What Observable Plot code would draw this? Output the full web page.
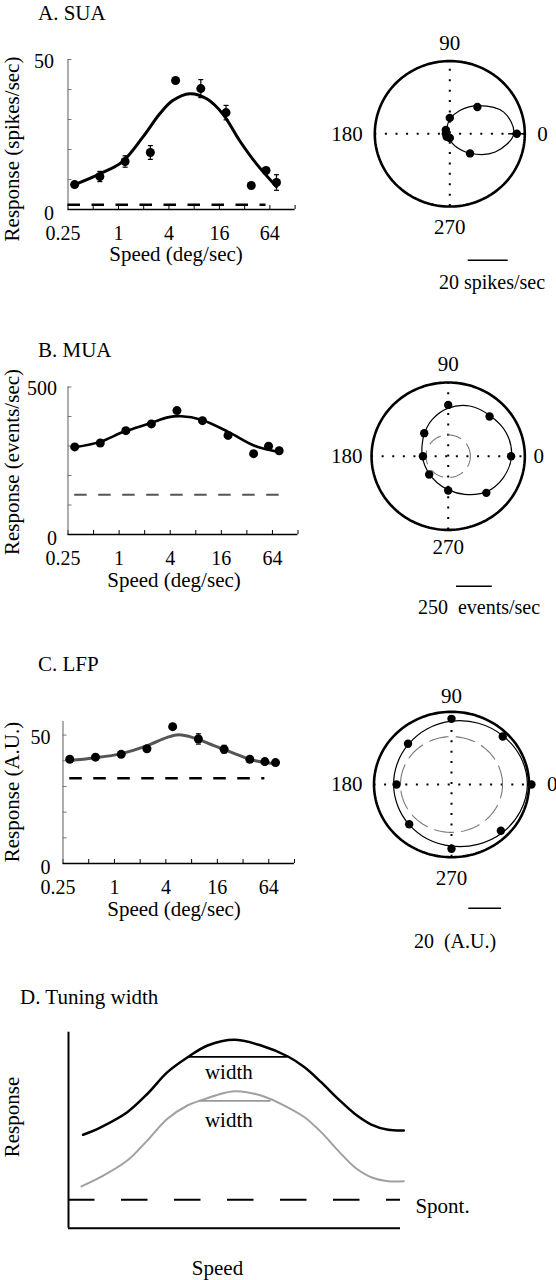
<!DOCTYPE html>
<html><head><meta charset="utf-8">
<script src="https://cdn.jsdelivr.net/npm/d3@7"></script>
<script src="https://cdn.jsdelivr.net/npm/@observablehq/plot@0.6"></script>
<style>
html,body{margin:0;padding:0;background:#fff;}
#page{position:relative;width:556px;height:1280px;overflow:hidden;background:#fff;font-family:"Liberation Serif","Times New Roman",serif;color:#000;}
#page svg{position:absolute;overflow:visible;}
.t{position:absolute;white-space:pre;line-height:1.15;font-size:21px;}
</style></head><body><div id="page"></div>
<script>
// ---------- data ----------
const speeds = [0.3, 0.6, 1.2, 2.4, 4.8, 9.6, 19.2, 38.4, 57.6, 76.8];
const octaveTicks = [0.25, 0.5, 1, 2, 4, 8, 16, 32, 64, 128];
const speedTickLabels = [0.25, 1, 4, 16, 64];

// A. SUA
const suaResp = [8.3, 11, 16, 19, 43, 40.3, 32.3, 8, 13, 9];
const suaErr = [0, 1.7, 1.9, 2.3, 0, 3, 2.4, 0, 0, 2.6];
const suaFitSpeed = [0.3, 0.6, 1.1, 1.95, 3.11, 4.44, 7.1, 11.3, 17.5, 27.8, 44.3, 76.8];
const suaFitResp = [8.3, 11.9, 15.8, 24.1, 31.9, 36.3, 38.6, 36.9, 31.9, 23.0, 15.2, 7.6];
const suaSpont = 1.6;
const suaSpontRange = [0.25, 57.6];
const suaYTicks = [0, 10, 20, 30, 40, 50];

// B. MUA
const muaResp = [297, 310, 352, 375, 420, 386, 336, 274, 299, 284];
const muaFitSpeed = [0.3, 0.6, 1.13, 2.37, 3.73, 5.4, 9.3, 19.3, 40, 76.8];
const muaFitResp = [296, 314, 348, 378, 397, 401, 389, 348, 300, 280];
const muaSpont = 135;
const muaSpontRange = [0.3, 76.8];
const muaYTicks = [0, 100, 200, 300, 400, 500];

// C. LFP
const lfpResp = [40.6, 41.4, 42.5, 44.7, 53.3, 48.5, 44.5, 40.6, 39.7, 39.3];
const lfpErr = [0, 0, 0, 0, 0, 2, 1.5, 0, 0, 0];
const lfpFitSpeed = [0.3, 0.57, 1.18, 2.42, 4.15, 5.66, 8.5, 14.6, 25.1, 42.9, 76.8];
const lfpFitResp = [40.1, 41.1, 42.7, 45.9, 49.1, 50.1, 48.9, 45.9, 42.9, 40.1, 38.8];
const lfpSpont = 33.2;
const lfpSpontRange = [0.3, 57.6];
const lfpYTicks = [0, 10, 20, 30, 40, 50];

// direction tuning (polar)
const directions = [0, 45, 90, 135, 180, 225, 270, 315];
const fitDirections = [0, 22.5, 45, 67.5, 90, 112.5, 135, 157.5, 180, 202.5, 225, 247.5, 270, 292.5, 315, 337.5];
const suaDir = [33.5, 19.5, 8.2, 2.8, 2.0, 2.2, 2.2, 14.3];
const suaDirErr = [4.3, 0, 0, 0, 0, 0, 0, 0];
const suaDirFit = [32, 29.2, 20.6, 13, 7.4, 3.7, 2.1, 1.5, 1.3, 1.3, 1.5, 2, 3.2, 6.8, 14.2, 24.6];
const suaDirOuter = 37.5;
const muaDir = [440, 409, 373, 237, 177, 188, 249, 377];
const muaDirFit = [443, 440, 415, 395, 350, 290, 235, 198, 181, 177, 185, 207, 245, 300, 370, 415];
const muaDirOuter = 536;
const muaDirSpont = 155;
const lfpDir = [48.9, 44.3, 42.8, 37.6, 33.6, 36.6, 41.9, 42.7];
const lfpDirFit = [46.4, 45.9, 44.7, 43.2, 41.3, 39.2, 37.2, 35.9, 35.4, 35.7, 36.8, 38.5, 40.2, 42.2, 44.2, 45.6];
const lfpDirOuter = 47.4;
const lfpDirSpont = 31.2;

// D. Tuning width (schematic)
const dBlackX = [4.4, 9.7, 17.7, 23.8, 29.8, 35.9, 41.9, 49.9, 58, 66.1, 71.1, 76.1, 81.2, 86.2, 91.2, 96.3, 101];
const dBlackY = [47.7, 51.5, 59.2, 68.6, 79.6, 87.2, 93.2, 96.1, 93.2, 87.6, 82.1, 74.5, 66, 58.4, 52.9, 50.2, 49.8];
const dGrayX = [3.9, 9.6, 17.7, 23.7, 29.8, 35.8, 39.8, 49.9, 58, 66, 71.1, 76.1, 81.2, 86.2, 91.2, 96.3, 101];
const dGrayY = [21.3, 26, 34.5, 44.7, 55.8, 62.6, 65.2, 69.9, 67.7, 61.7, 56.6, 49, 39.6, 31.1, 26, 24, 24];
const dBlackWidth = [35.9, 66.1], dBlackWidthLevel = 87.4;
const dGrayWidth = [39.5, 61], dGrayWidthLevel = 65;
const dSpont = 14.5;

// ---------- drawing ----------
const page = document.getElementById("page");
const FONT = '"Liberation Serif","Times New Roman",serif';
const capSymbol = {draw(ctx, size) { const w = Math.sqrt(size / Math.PI); ctx.moveTo(-w, 0); ctx.lineTo(w, 0); }};

function place(svg, left, top) {
  svg.style.position = "absolute";
  svg.style.left = left + "px";
  svg.style.top = top + "px";
  svg.style.maxWidth = "none";
  page.appendChild(svg);
}

function label(text, x, y, {anchor = "middle", rotate = 0, size = 21} = {}) {
  const d = document.createElement("div");
  d.className = "t";
  d.textContent = text;
  d.style.left = x + "px";
  d.style.top = y + "px";
  d.style.fontSize = size + "px";
  const tx = anchor === "start" ? "0" : anchor === "end" ? "-100%" : "-50%";
  d.style.transform = `translate(${tx},-50%)` + (rotate ? ` rotate(${rotate}deg)` : "");
  page.appendChild(d);
}

function speedPanel(c) {
  const pts = speeds.map((s, i) => ({s, v: c.resp[i], e: c.err ? c.err[i] : 0}));
  const eb = pts.filter(d => d.e > 0);
  const fit = c.fitSpeed.map((s, i) => ({s, v: c.fitResp[i]}));
  const yTop = c.yTop;
  const svg = Plot.plot({
    width: c.width, height: c.height,
    marginLeft: c.ml, marginRight: c.mr, marginTop: c.mt, marginBottom: c.mb,
    style: {fontFamily: FONT, fontSize: "20px", background: "transparent", color: "black"},
    x: {type: "log", base: 2, domain: [0.25, 128]},
    y: {domain: [0, yTop]},
    marks: [
      Plot.axisY({ticks: c.yTicks, tickSize: -4, tickFormat: () => "", stroke: "#777", label: null}),
      Plot.axisX({ticks: octaveTicks, tickSize: -4, tickFormat: () => "", stroke: "black", label: null}),
      Plot.ruleX([0.25], {y1: 0, y2: yTop, stroke: "#777", strokeWidth: 1.2}),
      Plot.ruleY([0], {stroke: "black", strokeWidth: 1.5}),
      Plot.text([c.yTicks[c.yTicks.length - 1]], {x: 0.25, y: d => d, text: d => String(d), textAnchor: "end", dx: -c.yGap, dy: 2, fontSize: 20}),
      Plot.text([0], {x: 0.25, y: d => d, text: d => String(d), textAnchor: "end", dx: -c.yGap, dy: 4, fontSize: 20}),
      Plot.text(speedTickLabels.slice(1), {x: d => d, y: 0, text: d => String(d), dy: 24, fontSize: 20}),
      Plot.text(speedTickLabels.slice(0, 1), {x: d => d, y: 0, text: d => String(d), dy: 24, dx: -5, fontSize: 20}),
      Plot.ruleY([c.spont], {x1: c.spontRange[0], x2: c.spontRange[1], stroke: c.spontColor, strokeWidth: c.spontWidth, strokeDasharray: "12.5,11.5"}),
      Plot.line(fit, {x: "s", y: "v", curve: "catmull-rom", stroke: c.fitColor, strokeWidth: c.fitWidth}),
      Plot.ruleX(eb, {x: "s", y1: d => d.v - d.e, y2: d => d.v + d.e, stroke: "black", strokeWidth: 1.2}),
      Plot.dot(eb, {x: "s", y: d => d.v + d.e, symbol: capSymbol, r: 2.5, stroke: "black", strokeWidth: 1.2, fill: "none"}),
      Plot.dot(eb, {x: "s", y: d => d.v - d.e, symbol: capSymbol, r: 2.5, stroke: "black", strokeWidth: 1.2, fill: "none"}),
      Plot.dot(pts, {x: "s", y: "v", r: 4.5, fill: "black", stroke: "none"})
    ]
  });
  place(svg, c.left, c.top);
}

function polarPanel(c) {
  const toXY = (a, r) => ({x: r * Math.cos(a * Math.PI / 180), y: r * Math.sin(a * Math.PI / 180)});
  const ring = R => d3.range(0, 361, 2).map(a => toXY(a, R));
  const R = c.outer;
  const pts = directions.map((a, i) => ({...toXY(a, c.vals[i]), a, r: c.vals[i], e: c.err ? c.err[i] : 0}));
  const eb = pts.filter(d => d.e > 0).map(d => {
    const p1 = toXY(d.a, d.r - d.e), p2 = toXY(d.a, d.r + d.e);
    return {x1: p1.x, y1: p1.y, x2: p2.x, y2: p2.y};
  });
  const fit = fitDirections.map((a, i) => toXY(a, c.fit[i]));
  const W = c.width, H = c.height;
  const svg = Plot.plot({
    width: W, height: H, margin: 0,
    style: {fontFamily: FONT, fontSize: "21px", background: "transparent", color: "black"},
    x: {domain: [-c.cx / c.kx, (W - c.cx) / c.kx], range: [0, W], axis: null},
    y: {domain: [(c.cy - H) / c.ky, c.cy / c.ky], range: [H, 0], axis: null},
    marks: [
      Plot.ruleY([0], {x1: -R, x2: R, stroke: "black", strokeWidth: 2, strokeDasharray: "2,8.6"}),
      Plot.ruleX([0], {y1: -R, y2: R, stroke: "black", strokeWidth: 2, strokeDasharray: "2,8.4"}),
      c.spont ? Plot.line(ring(c.spont), {x: "x", y: "y", stroke: "#777", strokeWidth: 1.1, strokeDasharray: c.spontDash}) : null,
      Plot.line(fit, {x: "x", y: "y", curve: "catmull-rom-closed", stroke: "black", strokeWidth: 1.2}),
      Plot.line(ring(R), {x: "x", y: "y", stroke: "black", strokeWidth: 2.6}),
      Plot.link(eb, {x1: "x1", y1: "y1", x2: "x2", y2: "y2", stroke: "black", strokeWidth: 1.5}),
      Plot.dot(pts, {x: "x", y: "y", r: 4.2, fill: "black", stroke: "none"}),
      Plot.text(["90"], {x: 0, y: R, text: d => d, dy: c.lab[0], fontSize: 21}),
      Plot.text(["270"], {x: 0, y: -R, text: d => d, dy: c.lab[1], fontSize: 21}),
      Plot.text(["180"], {x: -R, y: 0, text: d => d, dx: c.lab[2], textAnchor: "end", fontSize: 21}),
      Plot.text(["0"], {x: R, y: 0, text: d => d, dx: c.lab[3], textAnchor: "start", fontSize: 21}),
      Plot.ruleY([c.barY], {x1: c.barX, x2: c.barX + c.barLen, stroke: "black", strokeWidth: 1.5})
    ]
  });
  place(svg, c.left, c.top);
}

// A
speedPanel({left: 0, top: 0, width: 300, height: 245, ml: 67.5, mr: 5.4, mt: 59, mb: 36,
  resp: suaResp, err: suaErr, fitSpeed: suaFitSpeed, fitResp: suaFitResp, yTop: 50, yTicks: suaYTicks, yGap: 14,
  spont: suaSpont, spontRange: suaSpontRange, spontColor: "black", spontWidth: 2.5, fitColor: "black", fitWidth: 3});
polarPanel({left: 300, top: 0, width: 256, height: 300, cx: 149.3, cy: 133.3, kx: 2.0, ky: 1.94,
  outer: suaDirOuter, vals: suaDir, err: suaDirErr, fit: suaDirFit, lab: [-18, 21, -12, 12.5],
  barX: 9.2, barY: -65.2, barLen: 20});
// B
speedPanel({left: 0, top: 330, width: 300, height: 240, ml: 67.5, mr: 2.5, mt: 56.5, mb: 36,
  resp: muaResp, fitSpeed: muaFitSpeed, fitResp: muaFitResp, yTop: 500, yTicks: muaYTicks, yGap: 11,
  spont: muaSpont, spontRange: muaSpontRange, spontColor: "#555", spontWidth: 2, fitColor: "black", fitWidth: 2.6});
polarPanel({left: 300, top: 310, width: 256, height: 310, cx: 147.7, cy: 145.7, kx: 0.143, ky: 0.1375,
  outer: muaDirOuter, vals: muaDir, fit: muaDirFit, spont: muaDirSpont, spontDash: "13,8", lab: [-18, 17.5, -9, 8.7],
  barX: 58, barY: -945, barLen: 250});
// C
speedPanel({left: 0, top: 690, width: 300, height: 210, ml: 62.5, mr: 6, mt: 31, mb: 37,
  resp: lfpResp, err: lfpErr, fitSpeed: lfpFitSpeed, fitResp: lfpFitResp, yTop: 55.3, yTicks: lfpYTicks, yGap: 12.5,
  spont: lfpSpont, spontRange: lfpSpontRange, spontColor: "black", spontWidth: 2.5, fitColor: "#555", fitWidth: 3});
polarPanel({left: 300, top: 660, width: 256, height: 300, cx: 151, cy: 124, kx: 1.635, ky: 1.534,
  outer: lfpDirOuter, vals: lfpDir, fit: lfpDirFit, spont: lfpDirSpont, spontDash: "19,8", lab: [-16, 21, -11.5, 18],
  barX: 10.6, barY: -80.6, barLen: 20});

// D
{
  const black = dBlackX.map((x, i) => ({x, y: dBlackY[i]}));
  const gray = dGrayX.map((x, i) => ({x, y: dGrayY[i]}));
  const svg = Plot.plot({
    width: 480, height: 240, marginLeft: 68, marginRight: 80, marginTop: 11.7, marginBottom: 32.3,
    style: {fontFamily: FONT, fontSize: "21px", background: "transparent", color: "black"},
    x: {domain: [0, 100], axis: null},
    y: {domain: [0, 100], axis: null},
    marks: [
      Plot.ruleX([0], {y1: 0, y2: 100, stroke: "black", strokeWidth: 2}),
      Plot.ruleY([0], {x1: 0, x2: 100, stroke: "black", strokeWidth: 2}),
      Plot.ruleY([dSpont], {x1: 0, x2: 100, stroke: "black", strokeWidth: 2, strokeDasharray: "26.5,26.5"}),
      Plot.line(gray, {x: "x", y: "y", curve: "catmull-rom", stroke: "#a0a0a0", strokeWidth: 2}),
      Plot.line(black, {x: "x", y: "y", curve: "catmull-rom", stroke: "black", strokeWidth: 2.5}),
      Plot.ruleY([dBlackWidthLevel], {x1: dBlackWidth[0], x2: dBlackWidth[1], stroke: "black", strokeWidth: 1.8}),
      Plot.ruleY([dGrayWidthLevel], {x1: dGrayWidth[0], x2: dGrayWidth[1], stroke: "#999", strokeWidth: 1.8}),
      Plot.text(["width"], {x: 48.3, y: 79.7, text: d => d, fontSize: 21}),
      Plot.text(["width"], {x: 48.3, y: 55.1, text: d => d, fontSize: 21}),
      Plot.text(["Spont."], {x: 104.5, y: 11.2, text: d => d, textAnchor: "start", fontSize: 21})
    ]
  });
  place(svg, 0, 1020);
}

// ---------- text ----------
label("A. SUA", 38, 13, {anchor: "start"});
label("Response (spikes/sec)", 12, 149, {rotate: -90});
label("Speed (deg/sec)", 176, 254);
label("20 spikes/sec", 492, 282, {size: 20});
label("B. MUA", 38, 350, {anchor: "start"});
label("Response (events/sec)", 12, 462, {rotate: -90});
label("Speed (deg/sec)", 174, 580);
label("250  events/sec", 479, 607, {size: 20});
label("C. LFP", 38, 664, {anchor: "start"});
label("Response (A.U.)", 12, 792, {rotate: -90});
label("Speed (deg/sec)", 174, 909);
label("20  (A.U.)", 455, 941, {size: 20});
label("D. Tuning width", 20, 997, {anchor: "start"});
label("Response", 12, 1117, {rotate: -90});
label("Speed", 217.5, 1268);
</script></body></html>
